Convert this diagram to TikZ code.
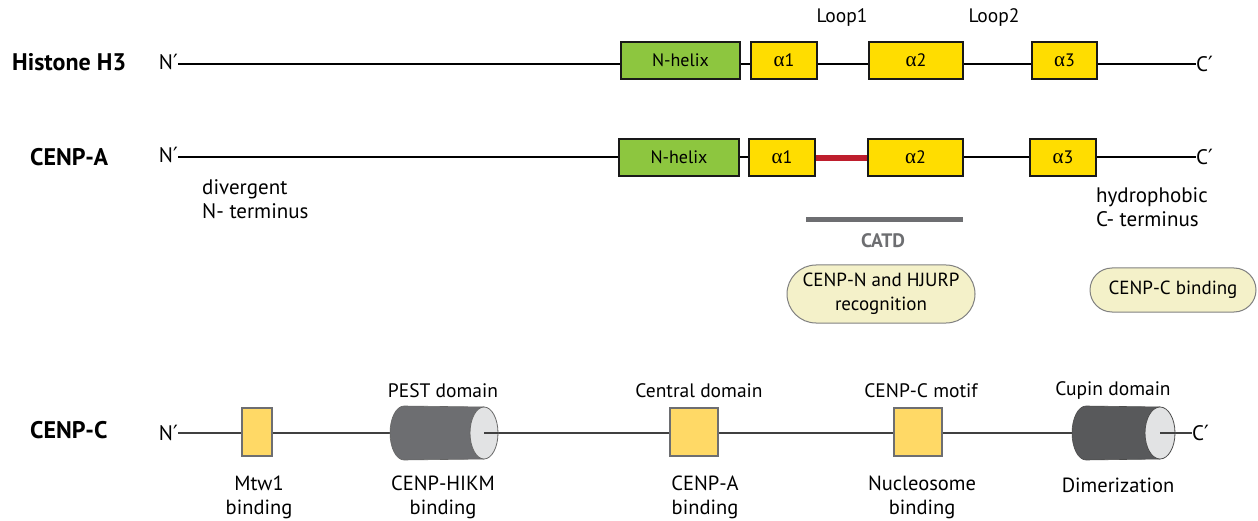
\documentclass[tikz,border=0pt]{standalone}
\usepackage{fontspec}
\setmainfont{PT Sans}
\newfontfamily\symfont{DejaVu Sans}
\newfontfamily\grfont{Liberation Serif}
\newcommand{\pr}{{\symfont ′}}
\newcommand{\al}{{\grfont\fontsize{21}{22}\selectfont α}}
\usetikzlibrary{shapes.misc}
\definecolor{hgreen}{HTML}{8DC63F}
\definecolor{hyellow}{HTML}{FFDD00}
\definecolor{cyellow}{HTML}{FFD966}
\definecolor{cred}{HTML}{BE1E2D}
\definecolor{cgrey}{HTML}{6D6E71}
\definecolor{cdark}{HTML}{58595B}
\definecolor{clight}{HTML}{E2E3E4}
\definecolor{pillfill}{HTML}{F4F1C9}
\begin{document}
\begin{tikzpicture}[x=1pt,y=-1pt,
  every node/.style={font=\fontsize{19.5}{22}\selectfont, inner sep=0pt},
  title/.style={font=\fontsize{24}{26}\selectfont\bfseries, anchor=west},
  term/.style={font=\fontsize{21}{24}\selectfont},
  backbone/.style={line width=1.8pt, black},
  cbackbone/.style={line width=1.8pt, black!75},
  hbox/.style={draw=black!90, line width=1.6pt, minimum height=37pt, font=\fontsize{18}{20}\selectfont},
  helix/.style={hbox, fill=hgreen},
  alpha/.style={hbox, fill=hyellow},
  cbox/.style={draw=cgrey, line width=1.6pt, fill=cyellow, minimum height=48pt},
  pill/.style={rounded rectangle, draw=black!50, line width=1pt, fill=pillfill, align=center, font=\fontsize{19}{24}\selectfont},
  small/.style={font=\fontsize{20.5}{24}\selectfont, align=center},
  smalll/.style={font=\fontsize{21}{24}\selectfont, align=left, anchor=north west}
]
\useasboundingbox (0,0) rectangle (1258,521);

% ---------------- Histone H3 ----------------
\node[title] (h3t) at (12,62) {Histone H3};
\node[term, anchor=east] (hN) at (178,62) {N\pr};
\node[term, anchor=west] (hC) at (1196,64) {C\pr};
\draw[backbone] (hN.east |- 0,64) -- (hC.west |- 0,64);
\node[helix, minimum width=119pt] (hnh) at (680.5,60.5) {N-helix};
\node[alpha, minimum width=66pt] (ha1) at (784,60.5) {\al1};
\node[alpha, minimum width=94pt] (ha2) at (916,60.5) {\al2};
\node[alpha, minimum width=65pt] (ha3) at (1064.5,60.5) {\al3};
\node (loop1) at (842,18) {Loop1};
\node (loop2) at (994,18) {Loop2};

% ---------------- CENP-A ----------------
\node[title] (cat) at (30,157) {CENP-A};
\node[term, anchor=east] (aN) at (178,155) {N\pr};
\node[term, anchor=west] (aC) at (1196,157) {C\pr};
\draw[backbone] (aN.east |- 0,157) -- (aC.west |- 0,157);
\node[helix, minimum width=120pt] (anh) at (679,157.5) {N-helix};
\node[alpha, minimum width=66pt] (aa1) at (782,157.5) {\al1};
\node[alpha, minimum width=95pt] (aa2) at (915.5,157.5) {\al2};
\node[alpha, minimum width=66pt] (aa3) at (1063,157.5) {\al3};
\draw[cred, line width=6pt] (aa1.east |- 0,158) -- (aa2.west |- 0,158);
\node[smalll] (divtxt) at (202,179) {divergent\\N- terminus};
\node[smalll] (hyd) at (1096,187) {hydrophobic\\C- terminus};
\coordinate (catdL) at (806,220);
\coordinate (catdR) at (963,220);
\draw[cgrey, line width=5pt] (catdL) -- (catdR);
\node[font=\fontsize{19.5}{20}\selectfont\bfseries, text=cgrey] (catd) at (883,241) {CATD};
\node[pill, minimum width=188pt, minimum height=58pt] (p1) at (881,294) {CENP-N and HJURP\\recognition};
\node[pill, minimum width=166pt, minimum height=44pt] (p2) at (1173,290) {CENP-C binding};

% ---------------- CENP-C ----------------
\node[title] (cct) at (30,430) {CENP-C};
\node[term, anchor=east] (cN) at (178,433) {N\pr};
\node[term, anchor=west] (cC) at (1192,433) {C\pr};
\coordinate (pestL) at (404,433);
\coordinate (pestR) at (484,433);
\coordinate (cupL) at (1086,433);
\coordinate (cupR) at (1160,433);
\draw[cbackbone] (cN.east |- 0,433) -- (pestL);
\draw[cbackbone] (pestR) -- (cupL);
\draw[cbackbone] (cupR) -- (cC.west |- 0,433);
% PEST cylinder
\fill[cgrey] (404,460) arc[start angle=90, end angle=270, x radius=14, y radius=27] -- (484,407) -- (484,459) -- cycle;
\draw[black!60, line width=0.6pt] (484,407) -- (404,406) arc[start angle=270, end angle=90, x radius=14, y radius=27] -- (484,459);
\filldraw[fill=clight, draw=black!60, line width=0.8pt] (pestR) ellipse[x radius=14, y radius=26];
\draw[cbackbone] (pestR) -- (498,433);
% Cupin cylinder
\fill[cdark] (1086,460) arc[start angle=90, end angle=270, x radius=14, y radius=27] -- (1160,407) -- (1160,459) -- cycle;
\draw[black!70, line width=0.6pt] (1160,407) -- (1086,406) arc[start angle=270, end angle=90, x radius=14, y radius=27] -- (1160,459);
\filldraw[fill=clight, draw=black!70, line width=0.8pt] (cupR) ellipse[x radius=15, y radius=26];
\draw[cbackbone] (cupR) -- (1175,433);
% boxes
\node[cbox, minimum width=30pt] (mtw) at (257,432) {};
\node[cbox, minimum width=48pt] (cen) at (694,432) {};
\node[cbox, minimum width=48pt] (mot) at (918,432) {};
% labels
\node (pestlab) at (443,391) {PEST domain};
\node (cenlab) at (699,391) {Central domain};
\node (motlab) at (921,391) {CENP-C motif};
\node (cuplab) at (1113,391) {Cupin domain};
\node[small] (mtwb) at (259,497) {Mtw1\\binding};
\node[small] (hikm) at (443,497) {CENP-HIKM\\binding};
\node[small] (cab) at (705,497) {CENP-A\\binding};
\node[small] (nuc) at (922,497) {Nucleosome\\binding};
\node[small] (dim) at (1118,485) {Dimerization};
\end{tikzpicture}
\end{document}
